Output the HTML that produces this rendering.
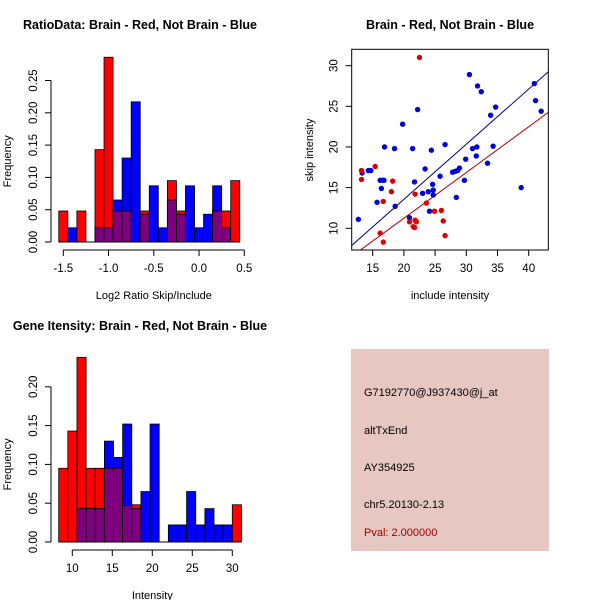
<!DOCTYPE html>
<html><head><meta charset="utf-8"><style>
body{margin:0;background:#fff}
svg{display:block;font-family:"Liberation Sans",sans-serif}
.t{font-weight:bold;font-size:12.5px}
.tk{font-size:11.5px}
.lb{font-size:11px}
</style></head><body>
<svg id="s" width="600" height="600" viewBox="0 0 600 600">
<rect width="600" height="600" fill="#fff"/>
<text class="t" x="140" y="29" text-anchor="middle">RatioData: Brain - Red, Not Brain - Blue</text>
<text class="t" x="450" y="29" text-anchor="middle">Brain - Red, Not Brain - Blue</text>
<text class="t" x="140" y="330" text-anchor="middle">Gene Itensity: Brain - Red, Not Brain - Blue</text>
<g id="p1"></g>
<g id="p2"></g>
<g id="p3"></g>
<g>
<rect x="351" y="349" width="198" height="202" fill="#E6C7C1"/>
<text class="lb" x="364" y="396">G7192770@J937430@j_at</text>
<text class="lb" x="364" y="434">altTxEnd</text>
<text class="lb" x="364" y="471">AY354925</text>
<text class="lb" x="364" y="508">chr5.20130-2.13</text>
<text class="lb" x="364" y="536" fill="#A00000">Pval: 2.000000</text>
</g>
</svg>
<script>
// Ratio histogram data
const ratioStart = -1.55, ratioWidth = 0.1;
const ratioRed  = [0.048,0,0.048,0,0.143,0.286,0.048,0.048,0,0.048,0,0,0.095,0.048,0,0,0,0.048,0.048,0.095];
const ratioBlue = [0,0.022,0,0,0.022,0.022,0.065,0.130,0.217,0.043,0.087,0.022,0.065,0.043,0.087,0.022,0.043,0.087,0.022,0];
const ratioXTicks = [-1.5,-1.0,-0.5,0.0,0.5];
const ratioXLabels = ["-1.5","-1.0","-0.5","0.0","0.5"];
const ratioYTicks = [0,0.05,0.10,0.15,0.20,0.25];
const ratioYLabels = ["0.00","0.05","0.10","0.15","0.20","0.25"];
// Intensity histogram data
const intStart = 8.3, intWidth = 1.142;
const intRed  = [0.095,0.143,0.238,0.095,0.095,0.095,0.095,0.047,0.048,0,0,0,0,0,0,0,0,0,0,0.048];
const intBlue = [0,0,0.043,0.043,0.043,0.130,0.109,0.152,0.043,0.065,0.152,0,0.022,0.022,0.065,0.022,0.043,0.022,0.022,0];
const intXTicks = [10,15,20,25,30];
const intXLabels = ["10","15","20","25","30"];
const intYTicks = [0,0.05,0.10,0.15,0.20];
const intYLabels = ["0.00","0.05","0.10","0.15","0.20"];
// Scatter data
const blueX = [12.7,13.3,14.3,14.7,15.7,16.2,16.6,16.8,16.4,16.9,18.5,18.6,19.8,20.9,21.4,21.7,22.2,23.0,23.4,23.9,24.1,24.4,24.6,24.7,24.7,26.6,25.8,27.8,28.2,28.6,28.9,28.4,29.7,29.9,30.5,31.0,31.7,31.6,31.8,32.4,33.4,33.9,34.3,34.7,38.8,40.9,41.1,42.0];
const blueY = [11.1,16.8,17.1,17.1,13.2,15.9,15.9,15.9,14.9,20.0,19.8,12.7,22.8,11.3,19.8,15.7,24.6,14.3,17.3,14.5,12.1,19.6,15.4,14.7,14.1,20.3,16.4,16.9,17.0,17.1,17.4,13.8,15.9,18.5,28.9,19.8,20.0,18.9,27.5,26.8,18.0,23.9,20.1,24.9,15.0,27.8,25.7,24.4];
const redX = [13.2,13.2,15.4,16.2,16.7,16.7,18.0,18.2,21.8,20.9,21.5,21.7,21.8,22.0,22.5,23.6,24.9,26.0,26.3,26.6];
const redY = [17.1,16.0,17.6,9.4,13.3,8.3,14.5,15.8,14.2,10.8,10.2,10.1,11.0,10.8,31.0,13.1,12.1,12.2,10.9,9.1];
const blueSlope = 0.678, redSlope = 0.562;
const scXTicks = [15,20,25,30,35,40];
const scYTicks = [10,15,20,25,30];

const NS="http://www.w3.org/2000/svg";
function mk(parent,tag,attrs){const e=document.createElementNS(NS,tag);for(const k in attrs)e.setAttribute(k,attrs[k]);parent.appendChild(e);return e;}

function hist(g,start,w,red,blue,xt,xl,yt,yl,sx,sy,xlab,yaxX,xaxY,prefix){
  const n=red.length;
  for(let i=0;i<n;i++){
    const x0=sx(start+i*w),x1=sx(start+(i+1)*w);
    const r=red[i],b=blue[i],m=Math.min(r,b);
    if(r>0){const e=mk(g,'rect',{x:x0,y:sy(r),width:x1-x0,height:sy(0)-sy(r),fill:'#FF0000',stroke:'#000','stroke-width':0.8});
      
      }
    if(b>0){const e=mk(g,'rect',{x:x0,y:sy(b),width:x1-x0,height:sy(0)-sy(b),fill:'#0000FF',stroke:'#000','stroke-width':0.8});
      
      }
    if(m>0){const e=mk(g,'rect',{x:x0,y:sy(m),width:x1-x0,height:sy(0)-sy(m),fill:'#7F007F',stroke:'#000','stroke-width':0.8});
      
      }
  }
  mk(g,'line',{x1:sx(start),x2:sx(start+n*w),y1:sy(0),y2:sy(0),stroke:'#000'});
  mk(g,'line',{x1:sx(xt[0]),x2:sx(xt[xt.length-1]),y1:xaxY,y2:xaxY,stroke:'#000'});
  xt.forEach((v,i)=>{mk(g,'line',{x1:sx(v),x2:sx(v),y1:xaxY,y2:xaxY+6,stroke:'#000'});
    const t=mk(g,'text',{x:sx(v),y:xaxY+22,'text-anchor':'middle','class':'tk'});t.textContent=xl[i];
    
    });
  mk(g,'line',{x1:yaxX,x2:yaxX,y1:sy(yt[0]),y2:sy(yt[yt.length-1]),stroke:'#000'});
  yt.forEach((v,i)=>{mk(g,'line',{x1:yaxX-6,x2:yaxX,y1:sy(v),y2:sy(v),stroke:'#000'});
    const t=mk(g,'text',{x:yaxX-14,y:sy(v),'text-anchor':'middle','class':'tk',transform:`rotate(-90 ${yaxX-14} ${sy(v)})`});t.textContent=yl[i];
    
    });
  const xtl=mk(g,'text',{x:(sx(xt[0])+sx(xt[xt.length-1]))/2,y:xaxY+49,'text-anchor':'middle','class':'lb'});xtl.textContent=xlab;
  
  
  const yc=(sy(yt[0])+sy(yt[yt.length-1]))/2;
  const ytl=mk(g,'text',{x:11,y:yc,'text-anchor':'middle','class':'lb',transform:`rotate(-90 11 ${yc})`});ytl.textContent='Frequency';
  
  
}
hist(document.getElementById('p1'),ratioStart,ratioWidth,ratioRed,ratioBlue,ratioXTicks,ratioXLabels,ratioYTicks,ratioYLabels,
  v=>63.3+(v+1.5)*90.5, v=>242-v*646, 'Log2 Ratio Skip/Include',51,250,'ratio');
hist(document.getElementById('p3'),intStart,intWidth,intRed,intBlue,intXTicks,intXLabels,intYTicks,intYLabels,
  v=>72.3+(v-10)*8, v=>542-v*776, 'Intensity',51,550,'intensity');
(function(){
  const g=document.getElementById('p2');
  const L=351.7,R=548.3,T=49.3,B=250;
  const sx=v=>372.7+(v-15)*6.24, sy=v=>228.3-(v-10)*8.133;
  const x0=(L-372.7)/6.24+15, x1=(R-372.7)/6.24+15;
  const cp=mk(g,'clipPath',{id:'cp'});mk(cp,'rect',{x:L,y:T,width:R-L,height:B-T});
  const lines=mk(g,'g',{'clip-path':'url(#cp)'});
  const bl=mk(lines,'line',{x1:sx(x0),y1:sy(x0*blueSlope),x2:sx(x1),y2:sy(x1*blueSlope),stroke:'#00008B'});
  
  
  const rl=mk(lines,'line',{x1:sx(x0),y1:sy(x0*redSlope),x2:sx(x1),y2:sy(x1*redSlope),stroke:'#B00000'});
  
  
  blueX.forEach((v,i)=>{const c=mk(g,'circle',{cx:sx(v),cy:sy(blueY[i]),r:2.7,fill:'#0000DD'});
    
    });
  redX.forEach((v,i)=>{const c=mk(g,'circle',{cx:sx(v),cy:sy(redY[i]),r:2.7,fill:'#DD0000'});
    
    });
  mk(g,'rect',{x:L,y:T,width:R-L,height:B-T,fill:'none',stroke:'#000'});
  scXTicks.forEach(v=>{mk(g,'line',{x1:sx(v),x2:sx(v),y1:B,y2:B+6,stroke:'#000'});
    const t=mk(g,'text',{x:sx(v),y:B+22,'text-anchor':'middle','class':'tk'});t.textContent=v;
    
    });
  scYTicks.forEach(v=>{mk(g,'line',{x1:L-6,x2:L,y1:sy(v),y2:sy(v),stroke:'#000'});
    const t=mk(g,'text',{x:L-14,y:sy(v),'text-anchor':'middle','class':'tk',transform:`rotate(-90 ${L-14} ${sy(v)})`});t.textContent=v;
    
    });
  const xt=mk(g,'text',{x:450,y:299,'text-anchor':'middle','class':'lb'});xt.textContent='include intensity';
  
  
  const yt=mk(g,'text',{x:313,y:150,'text-anchor':'middle','class':'lb',transform:'rotate(-90 313 150)'});yt.textContent='skip intensity';
  
  
})();
</script>
</body></html>
